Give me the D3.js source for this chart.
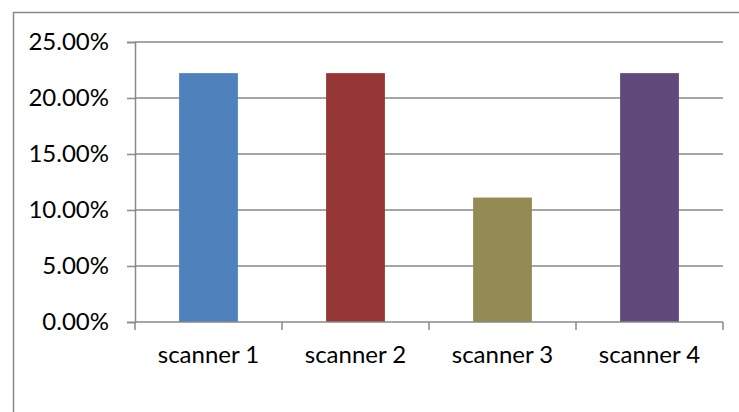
<!DOCTYPE html>
<html><head><meta charset="utf-8">
<script src="https://cdn.jsdelivr.net/npm/d3@7"></script>
<style>html,body{margin:0;padding:0;background:#fff;}svg{display:block;}</style>
</head><body>
<script>
const categories = ["scanner 1", "scanner 2", "scanner 3", "scanner 4"];
const values = [0.2222, 0.2222, 0.1111, 0.2222];
const colors = ["#4F81BD", "#963735", "#948A54", "#604A7B"];
const yTicks = [0, 0.05, 0.10, 0.15, 0.20, 0.25];

const W = 739, H = 412;
const svg = d3.select("body").append("svg").attr("width", W).attr("height", H);

// outer chart border (extends past right and bottom edges)
svg.append("rect").attr("x", 13.5).attr("y", 12.5).attr("width", 800).attr("height", 500)
  .attr("fill", "none").attr("stroke", "#888").attr("stroke-width", 1.5);

const mLeft = 135, mRight = 723, mTop = 42, mBottom = 322;
const x = d3.scaleBand().domain(categories).range([mLeft, mRight]).paddingInner(0.6).paddingOuter(0.3);
const y = d3.scaleLinear().domain([0, 0.25]).range([mBottom, mTop]);

// gridlines
svg.append("g").selectAll("line").data(yTicks.filter(d => d > 0)).join("line")
  .attr("x1", mLeft).attr("x2", mRight)
  .attr("y1", d => y(d)).attr("y2", d => y(d))
  .attr("stroke", "#888").attr("stroke-width", 1.5);

// bars
svg.append("g").selectAll("rect").data(categories).join("rect")
  .attr("x", d => x(d)).attr("width", x.bandwidth())
  .attr("y", (d, i) => y(values[i])).attr("height", (d, i) => mBottom - y(values[i]))
  .attr("fill", (d, i) => colors[i]);

// y axis
const yAxis = d3.axisLeft(y).tickValues(yTicks).tickFormat(d3.format(".2%")).tickSize(8).tickPadding(8);
const gy = svg.append("g").attr("transform", `translate(${mLeft},0)`).call(yAxis);
gy.select(".domain").attr("stroke", "#888").attr("stroke-width", 1.5);
gy.selectAll(".tick line").attr("stroke", "#888").attr("stroke-width", 1.5);
gy.selectAll(".tick text").attr("font-family", "Lato, 'Open Sans', sans-serif").attr("font-size", 24).attr("fill", "#000").attr("x", -26);

// x axis
const xAxis = d3.axisBottom(x).tickSize(0).tickPadding(24);
const gx = svg.append("g").attr("transform", `translate(0,${mBottom})`).call(xAxis);
gx.select(".domain").attr("stroke", "#888").attr("stroke-width", 1.5).attr("d", `M${mLeft},0H${mRight}`);
gx.selectAll(".tick text").attr("font-family", "Lato, 'Open Sans', sans-serif").attr("font-size", 24).attr("fill", "#000");
// category boundary ticks
const bounds = [mLeft].concat(categories.map(c => x(c) + x.bandwidth() / 2 + x.step() / 2));
gx.append("g").selectAll("line").data(bounds).join("line")
  .attr("x1", d => d).attr("x2", d => d).attr("y1", 0).attr("y2", 8)
  .attr("stroke", "#888").attr("stroke-width", 1.5);
</script>
</body></html>
